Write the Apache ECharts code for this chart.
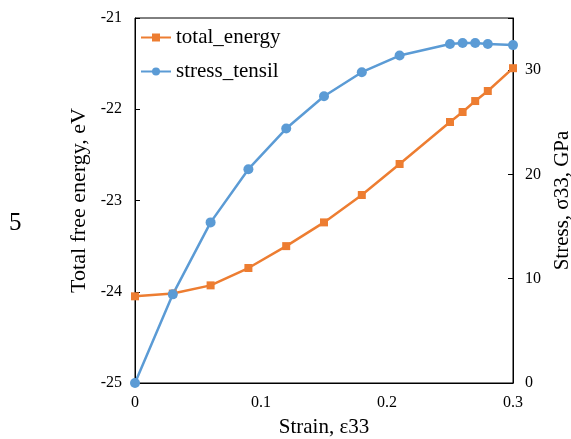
<!DOCTYPE html>
<html>
<head>
<meta charset="utf-8">
<script src="https://cdn.jsdelivr.net/npm/echarts@6/dist/echarts.min.js"></script>
<style>
  html, body { margin: 0; padding: 0; background: #fff; }
  #chart { width: 571px; height: 439px; }
</style>
</head>
<body>
<div id="chart"></div>
<script>
var strain = [0, 0.03, 0.06, 0.09, 0.12, 0.15, 0.18, 0.21, 0.25, 0.26, 0.27, 0.28, 0.30];
var totalEnergy = [-24.05, -24.02, -23.93, -23.74, -23.50, -23.24, -22.94, -22.60, -22.14, -22.03, -21.91, -21.80, -21.55];
var stressTensil = [0, 8.5, 15.4, 20.5, 24.4, 27.5, 29.8, 31.4, 32.5, 32.6, 32.6, 32.5, 32.4];

var font = 'Liberation Serif';

function pairs(xs, ys) {
    var out = [];
    for (var i = 0; i < xs.length; i++) {
        out.push([xs[i], ys[i]]);
    }
    return out;
}

var chart = echarts.init(document.getElementById('chart'));

var option = {
    animation: false,
    textStyle: { fontFamily: font },
    title: {
        text: '5',
        left: 4,
        top: 206,
        textStyle: { fontFamily: font, fontSize: 25, fontWeight: 'normal', color: '#000' }
    },
    grid: {
        left: 135,
        right: 58,
        top: 18,
        bottom: 56,
        outerBoundsMode: 'none',
        containLabel: false,
        show: true,
        borderColor: '#000',
        borderWidth: 1
    },
    legend: {
        left: 140,
        top: 27,
        padding: 0,
        orient: 'vertical',
        itemGap: 13,
        itemWidth: 30,
        itemHeight: 10,
        textStyle: { fontFamily: font, fontSize: 21, color: '#000' },
        data: ['total_energy', 'stress_tensil']
    },
    xAxis: {
        type: 'value',
        min: 0,
        max: 0.3,
        interval: 0.1,
        name: 'Strain, ε33',
        nameLocation: 'middle',
        nameGap: 34,
        nameTextStyle: { fontFamily: font, fontSize: 21, color: '#000' },
        axisLine: { lineStyle: { color: '#000', width: 1 } },
        axisTick: { show: false },
        axisLabel: { fontFamily: font, fontSize: 16, color: '#000', margin: 12 },
        splitLine: { show: false }
    },
    yAxis: [
        {
            type: 'value',
            min: -25,
            max: -21,
            interval: 1,
            name: 'Total free energy, eV',
            nameLocation: 'middle',
            nameGap: 40,
            nameTextStyle: { fontFamily: font, fontSize: 22, color: '#000' },
            axisLine: { show: true, lineStyle: { color: '#000', width: 1 } },
            axisTick: { show: true, inside: true, length: 5, lineStyle: { color: '#000' } },
            axisLabel: { fontFamily: font, fontSize: 16, color: '#000', margin: 13 },
            splitLine: { show: false }
        },
        {
            type: 'value',
            min: 0,
            max: 35,
            interval: 10,
            position: 'right',
            name: 'Stress, σ33, GPa',
            nameLocation: 'middle',
            nameGap: 37,
            nameTextStyle: { fontFamily: font, fontSize: 21, color: '#000' },
            axisLine: { show: true, lineStyle: { color: '#000', width: 1 } },
            axisTick: { show: true, inside: true, length: 5, lineStyle: { color: '#000' } },
            axisLabel: {
                fontFamily: font, fontSize: 16, color: '#000', margin: 12,
                formatter: function (v) { return v === 35 ? '' : v; }
            },
            splitLine: { show: false }
        }
    ],
    series: [
        {
            name: 'total_energy',
            type: 'line',
            yAxisIndex: 0,
            data: pairs(strain, totalEnergy),
            symbol: 'rect',
            symbolSize: 8,
            clip: false,
            itemStyle: { color: '#ED7D31' },
            lineStyle: { color: '#ED7D31', width: 2.5 }
        },
        {
            name: 'stress_tensil',
            type: 'line',
            yAxisIndex: 1,
            data: pairs(strain, stressTensil),
            symbol: 'circle',
            symbolSize: 10,
            clip: false,
            itemStyle: { color: '#5B9BD5' },
            lineStyle: { color: '#5B9BD5', width: 2.5 }
        }
    ]
};

chart.setOption(option);
</script>
</body>
</html>
